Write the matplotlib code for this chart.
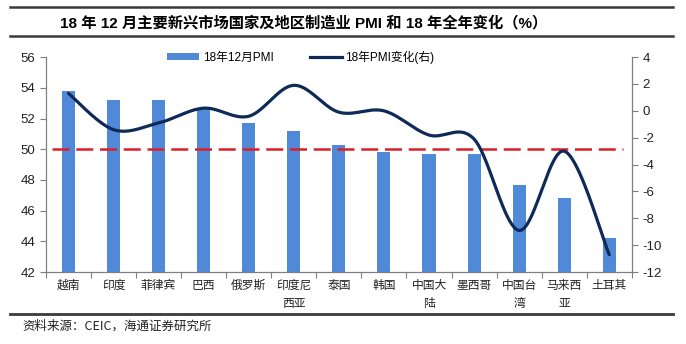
import matplotlib.pyplot as plt
import numpy as np
from matplotlib.lines import Line2D
from matplotlib.patches import Patch

plt.rcParams['font.family'] = ['Liberation Sans', 'Noto Sans CJK SC']
plt.rcParams['axes.unicode_minus'] = False

countries = ['越南', '印度', '菲律宾', '巴西', '俄罗斯', '印度尼\n西亚', '泰国',
             '韩国', '中国大\n陆', '墨西哥', '中国台\n湾', '马来西\n亚', '土耳其']
pmi_dec = [53.8, 53.2, 53.2, 52.6, 51.7, 51.2, 50.3, 49.8, 49.7, 49.7, 47.7, 46.8, 44.2]
pmi_change = [1.3, -1.4, -0.9, 0.2, -0.4, 1.9, -0.1, 0.0, -1.8, -2.1, -8.9, -3.0, -10.7]
left_ticks = [42, 44, 46, 48, 50, 52, 54, 56]
right_ticks = [-12, -10, -8, -6, -4, -2, 0, 2, 4]

BAR_COLOR = '#4F89D8'
LINE_COLOR = '#0E2A57'
DASH_COLOR = '#DA1F26'
GRAY = '#7F7F7F'


def smooth(xs, ys, n=40):
    # piecewise cubic bezier through every point, like a smoothed office line chart
    p = np.column_stack([xs, ys]).astype(float)
    p_ext = np.vstack([p[0], p, p[-1]])
    out = []
    for i in range(len(p) - 1):
        p0, p1, p2, p3 = p_ext[i], p_ext[i + 1], p_ext[i + 2], p_ext[i + 3]
        c1 = p1 + (p2 - p0) / 6
        c2 = p2 - (p3 - p1) / 6
        t = np.linspace(0, 1, n)[:, None]
        seg = ((1 - t) ** 3) * p1 + 3 * ((1 - t) ** 2) * t * c1 + 3 * (1 - t) * t ** 2 * c2 + t ** 3 * p2
        out.append(seg if i == 0 else seg[1:])
    out = np.vstack(out)
    return out[:, 0], out[:, 1]


fig = plt.figure(figsize=(6.86, 3.44), dpi=100)
ax = fig.add_axes([0.067, 0.209, 0.854, 0.625])
ax2 = ax.twinx()

x = np.arange(len(countries))
ax.bar(x, pmi_dec, width=0.29, color=BAR_COLOR, zorder=2)
ax.axhline(50, xmin=0.01, xmax=0.985, color=DASH_COLOR, lw=1.8,
           linestyle=(0, (6.8, 2.7)), zorder=3)

sx, sy = smooth(x, pmi_change)
ax2.plot(sx, sy, color=LINE_COLOR, lw=2.3, solid_capstyle='round')

ax.set_xlim(-0.5, len(countries) - 0.5)
ax.set_ylim(42, 56)
ax.set_yticks(left_ticks)
ax2.set_ylim(-12, 4)
ax2.set_yticks(right_ticks)

# category labels sit between boundary ticks
ax.set_xticks(np.arange(len(countries) + 1) - 0.5)
ax.set_xticklabels([])
ax.set_xticks(x, minor=True)
ax.set_xticklabels(countries, minor=True, fontsize=8.5, family=['Noto Sans CJK SC'],
                   color='#222222', linespacing=1.5, va='top')
ax.tick_params(axis='x', which='minor', length=0, pad=5)
ax.tick_params(axis='x', which='major', length=4, color=GRAY, width=0.8)

for a in (ax, ax2):
    a.spines['top'].set_visible(False)
    for s in ('left', 'right', 'bottom'):
        a.spines[s].set_color(GRAY)
        a.spines[s].set_linewidth(0.8)
    a.tick_params(axis='y', labelsize=9.5, colors='#222222', length=4, width=0.8)
    a.tick_params(axis='y', color=GRAY)

handles = [Patch(facecolor=BAR_COLOR, edgecolor='none'),
           Line2D([], [], color=LINE_COLOR, lw=2.3)]
ax.legend(handles, ['18年12月PMI', '18年PMI变化(右)'], loc='center',
          bbox_to_anchor=(0.435, 1.0), ncol=2, frameon=False, fontsize=8.5,
          handlelength=2.7, handleheight=0.55, columnspacing=3.1, handletextpad=0.3)

fig.text(0.442, 0.934, '18 年 12 月主要新兴市场国家及地区制造业 PMI 和 18 年全年变化（%）',
         ha='center', va='center', fontsize=11, fontweight='bold',
         family=['Liberation Sans', 'Noto Sans CJK SC'])
fig.text(0.032, 0.052, '资料来源：CEIC，海通证券研究所', ha='left', va='center',
         fontsize=9, family=['Noto Sans CJK SC'], color='#222222')

for yy, lw in ((0.980, 1.8), (0.896, 1.8), (0.087, 2.0)):
    fig.add_artist(Line2D([0.0146, 0.981], [yy, yy], color='#3A3A3A', lw=lw))

fig.savefig('out.png', dpi=100)
